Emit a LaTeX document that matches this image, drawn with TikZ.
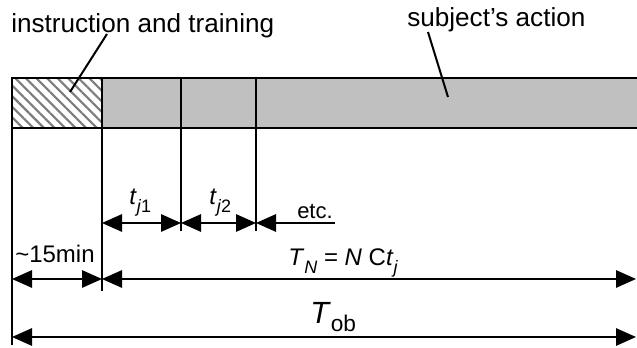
\documentclass[tikz,border=0pt]{standalone}
\usepackage{fontspec}
\setmainfont{Liberation Sans}
\usetikzlibrary{arrows.meta,patterns.meta}

\definecolor{barfill}{RGB}{192,192,192}
\definecolor{hatchgray}{RGB}{125,125,125}

\newcommand{\lblsize}{\fontsize{18}{20}\selectfont}
\newcommand{\subsc}[1]{\raisebox{-0.3em}{\fontsize{13.5}{15}\selectfont #1}}

\tikzset{
  barline/.style={line width=1.5pt},
  leader/.style={line width=1.5pt},
  dimarrow/.style={line width=1.5pt,{Triangle[length=15pt,width=13pt]}-{Triangle[length=15pt,width=13pt]}},
  halfarrow/.style={line width=1.5pt,{Triangle[length=15pt,width=13pt]}-},
  lbl/.style={inner sep=0pt,anchor=base west,font=\lblsize},
}

\begin{document}
\begin{tikzpicture}[x=0.75pt,y=0.75pt,yscale=-1,xscale=1]
\useasboundingbox (0,0) rectangle (637,348);
\clip (0,0) rectangle (637,348);

% Bar
\draw [barline,fill=barfill] (12,78) rectangle (660,128);
\draw [barline,preaction={fill=white},pattern={Lines[angle=-45,distance=5.6pt,line width=1.6pt]},pattern color=hatchgray] (12,78) rectangle (102,128);

% Boundaries
\coordinate (a0) at (12,78);
\coordinate (a1) at (102,78);
\coordinate (a2) at (181,78);
\coordinate (a3) at (256,78);
\coordinate (rend) at (636,0);
\coordinate (row1) at (0,223);
\coordinate (row2) at (0,279);
\coordinate (row3) at (0,337);

\draw [barline] (a0) -- (a0 |- 0,345);
\draw [barline] (a1) -- (a1 |- 0,291);
\draw [barline] (a2) -- (a2 |- 0,231);
\draw [barline] (a3) -- (a3 |- 0,231);

% Top labels
\node [lbl,font=\fontsize{19.6}{22}\selectfont] (instr) at (11,33) {instruction and training};
\node [lbl,font=\fontsize{19.6}{22}\selectfont] (action) at (407,27) {subject’s action};
\coordinate (instr-from) at (107,34);
\coordinate (instr-to) at (70,92);
\coordinate (action-from) at (428,32);
\coordinate (action-to) at (448,97);
\draw [leader] (instr-from) -- (instr-to);
\draw [leader] (action-from) -- (action-to);

% Dimension arrows
\draw [dimarrow] (a1 |- row1) -- (a2 |- row1);
\draw [dimarrow] (a2 |- row1) -- (a3 |- row1);
\coordinate (etc-end) at (335,223);
\draw [halfarrow] (a3 |- row1) -- (etc-end);
\draw [dimarrow] (a0 |- row2) -- (a1 |- row2);
\draw [dimarrow] (a1 |- row2) -- (rend |- row2);
\draw [dimarrow] (a0 |- row3) -- (rend |- row3);

% Dimension labels
\node [lbl] (tj1) at (129,205) {\textit{t}\subsc{\textit{j}1}};
\node [lbl] (tj2) at (209,205) {\textit{t}\subsc{\textit{j}2}};
\node [lbl,font=\fontsize{16.5}{18}\selectfont] (etc) at (297,219) {etc.};
\node [lbl] (fifteen) at (15,263) {\textasciitilde 15min};
\node [lbl] (tn) at (288,266) {\textit{T}\subsc{\textit{N}} = \textit{N} C\textit{t}\subsc{\textit{j}}};
\node [lbl] (tob) at (310,324) {{\fontsize{23}{26}\selectfont\textit{T}}\subsc{\fontsize{17}{19}\selectfont ob}};

\end{tikzpicture}
\end{document}
